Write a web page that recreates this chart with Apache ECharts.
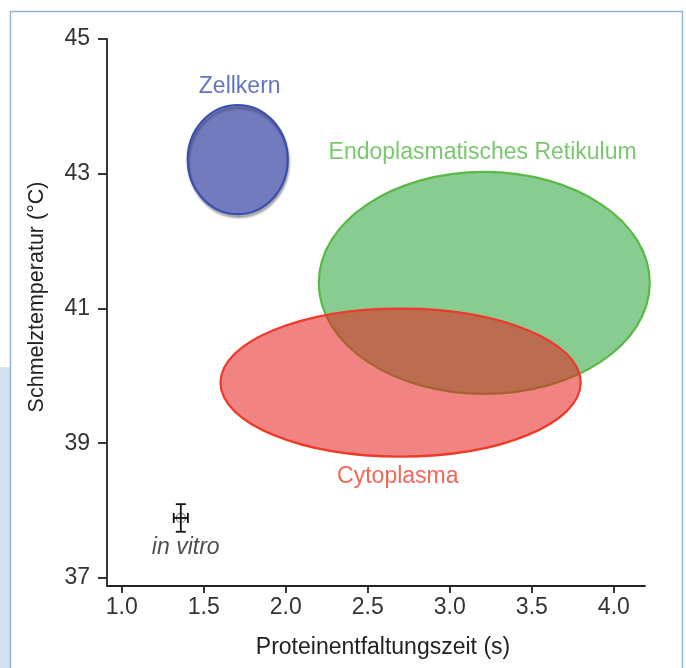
<!DOCTYPE html>
<html>
<head>
<meta charset="utf-8">
<script src="https://cdn.jsdelivr.net/npm/echarts@6/dist/echarts.min.js"></script>
<style>
html,body{margin:0;padding:0;background:#fff;}
#c{width:686px;height:668px;}
</style>
</head>
<body>
<div id="c"></div>
<script>
// Regions (ellipses): name, center x (s), center y (°C), half-width (s), half-height (°C)
const regionNames = ['Endoplasmatisches Retikulum', 'Cytoplasma', 'Zellkern'];
const centerX = [3.21, 2.70, 1.707];
const centerY = [41.38, 39.90, 43.21];
const radiusX = [1.009, 1.098, 0.305];
const radiusY = [1.647, 1.098, 0.81];
// label anchor points for region names (data coords)
const labelX = [3.20, 2.683, 1.719];
const labelY = [43.31, 38.50, 44.29];

// in vitro measurement with error bars
const vitroX = [1.36];
const vitroY = [37.89];
const vitroErrX = [0.043];
const vitroErrY = [0.205];
const vitroLabel = 'in vitro';
const vitroLabelX = 1.39;
const vitroLabelY = 37.45;

const xTicks = [1.0, 1.5, 2.0, 2.5, 3.0, 3.5, 4.0];
const yTicks = [37, 39, 41, 43, 45];

const fills = ['rgb(137,204,145)', 'rgba(230,30,30,0.55)', 'rgb(113,123,190)'];
const strokes = ['rgb(88,186,68)', 'rgb(238,58,40)', 'rgb(58,80,176)'];
const textColors = ['rgb(88,186,72)', 'rgb(238,66,46)', 'rgb(64,80,176)'];

const FONT = '"Liberation Sans", Arial, sans-serif';
const FS = 23;

const chart = echarts.init(document.getElementById('c'), null, {renderer: 'canvas'});

const ellipseData = regionNames.map((n, i) => [centerX[i], centerY[i], radiusX[i], radiusY[i], i]);

const option = {
  animation: false,
  backgroundColor: '#fff',
  graphic: [
    {type: 'rect', shape: {x: 0, y: 367, width: 11, height: 301}, style: {fill: 'rgb(208,226,238)'}, z: -10},
    {type: 'rect', shape: {x: 10.5, y: 11.5, width: 672, height: 680}, style: {fill: 'none', stroke: 'rgb(150,180,205)', lineWidth: 1.5}, z: -9},
    {type: 'text', x: 37, y: 297, rotation: Math.PI / 2, style: {text: 'Schmelztemperatur (°C)', font: '21.5px ' + FONT, fill: '#222', align: 'center', verticalAlign: 'middle'}},
    {type: 'text', x: 383, y: 648, style: {text: 'Proteinentfaltungszeit (s)', font: FS + 'px ' + FONT, fill: '#222', align: 'center', verticalAlign: 'middle'}}
  ],
  grid: {left: 107, right: 41, top: 39, bottom: 82, containLabel: false},
  xAxis: {
    type: 'value', min: 0.91, max: 4.19,
    splitLine: {show: false},
    axisLine: {show: true, lineStyle: {color: '#222', width: 1.8}},
    axisTick: {show: true, length: 7, customValues: xTicks, lineStyle: {color: '#222', width: 1.8}},
    axisLabel: {customValues: xTicks, margin: 10, color: '#333', fontSize: FS, fontFamily: FONT, formatter: v => v.toFixed(1)}
  },
  yAxis: {
    type: 'value', min: 36.88, max: 45,
    splitLine: {show: false},
    axisLine: {show: true, lineStyle: {color: '#222', width: 1.8}},
    axisTick: {show: true, length: 9, customValues: yTicks, lineStyle: {color: '#222', width: 1.8}},
    axisLabel: {customValues: yTicks, margin: 17, color: '#333', fontSize: FS, fontFamily: FONT}
  },
  series: [
    {
      type: 'custom',
      data: ellipseData,
      renderItem: function (params, api) {
        const i = api.value(4);
        const c = api.coord([api.value(0), api.value(1)]);
        const s = api.size([api.value(2), api.value(3)]);
        const style = {fill: fills[i], stroke: strokes[i], lineWidth: 2.2};
        if (i === 2) {
          style.shadowColor = 'rgba(0,0,0,0.28)';
          style.shadowOffsetX = 1;
          style.shadowOffsetY = 3;
          style.shadowBlur = 2;
        }
        return {type: 'ellipse', shape: {cx: c[0], cy: c[1], rx: s[0], ry: s[1]}, style: style};
      },
      z: 2
    },
    {
      type: 'scatter',
      symbolSize: 0,
      data: regionNames.map((n, i) => ({name: n, value: [labelX[i], labelY[i]],
        label: {show: true, position: 'inside', formatter: n, color: textColors[i], fontSize: FS, fontFamily: FONT}})),
      z: 5
    },
    {
      type: 'custom',
      data: vitroX.map((x, i) => [x, vitroY[i], vitroErrX[i], vitroErrY[i]]),
      renderItem: function (params, api) {
        const x = api.value(0), y = api.value(1), ex = api.value(2), ey = api.value(3);
        const c = api.coord([x, y]);
        const top = api.coord([x, y + ey]);
        const bot = api.coord([x, y - ey]);
        const left = api.coord([x - ex, y]);
        const right = api.coord([x + ex, y]);
        const ls = {stroke: '#111', lineWidth: 1.8};
        return {type: 'group', children: [
          {type: 'circle', shape: {cx: c[0], cy: c[1], r: 4.5}, style: {fill: 'none', stroke: '#888', lineWidth: 1.2}},
          {type: 'line', shape: {x1: top[0], y1: top[1], x2: bot[0], y2: bot[1]}, style: ls},
          {type: 'line', shape: {x1: top[0] - 5, y1: top[1], x2: top[0] + 5, y2: top[1]}, style: ls},
          {type: 'line', shape: {x1: bot[0] - 5, y1: bot[1], x2: bot[0] + 5, y2: bot[1]}, style: ls},
          {type: 'line', shape: {x1: left[0], y1: left[1], x2: right[0], y2: right[1]}, style: ls},
          {type: 'line', shape: {x1: left[0], y1: left[1] - 5, x2: left[0], y2: left[1] + 5}, style: ls},
          {type: 'line', shape: {x1: right[0], y1: right[1] - 5, x2: right[0], y2: right[1] + 5}, style: ls}
        ]};
      },
      z: 4
    },
    {
      type: 'scatter',
      symbolSize: 0,
      data: [{name: vitroLabel, value: [vitroLabelX, vitroLabelY],
        label: {show: true, position: 'inside', formatter: vitroLabel, color: '#222', fontSize: FS, fontStyle: 'italic', fontFamily: FONT}}],
      z: 5
    }
  ]
};
chart.setOption(option);
</script>
</body>
</html>
